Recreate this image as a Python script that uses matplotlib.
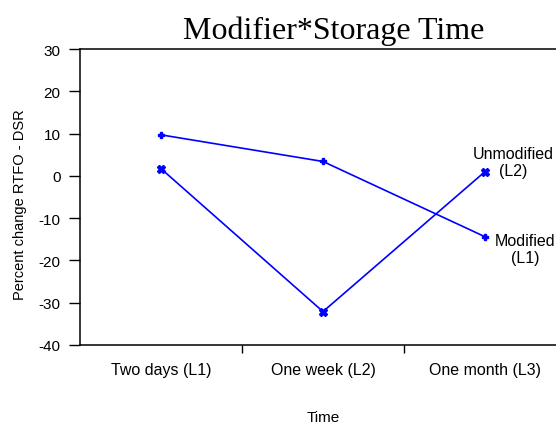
import matplotlib
matplotlib.use('Agg')
import matplotlib.pyplot as plt

categories = ['Two days (L1)', 'One week (L2)', 'One month (L3)']
modified = [9.7, 3.4, -14.4]
unmodified = [1.7, -32.1, 1.0]
y_ticks = [-40, -30, -20, -10, 0, 10, 20, 30]

plt.rcParams['font.family'] = ['Liberation Sans', 'DejaVu Sans']

fig = plt.figure(figsize=(5.56, 4.31), dpi=100)
# axes runs a bit past the right edge, like the original
ax = fig.add_axes([80 / 556, 85 / 431, 486 / 556, 296 / 431])

x = list(range(len(categories)))
blue = '#0000ff'
ax.plot(x, modified, color=blue, lw=1.2, marker='P', ms=5, clip_on=False)
ax.plot(x, unmodified, color=blue, lw=1.2, marker='X', ms=5.5, clip_on=False)

ax.set_xlim(-0.5, 2.5)
ax.set_ylim(-40, 30)
ax.set_yticks(y_ticks)
ax.set_yticklabels([str(v) for v in y_ticks], fontsize=11)
ax.tick_params(axis='y', length=8, width=1, direction='out', pad=6)

ax.set_xticks(x)
ax.set_xticklabels(categories, fontsize=11.5)
ax.tick_params(axis='x', length=0, pad=12)
ax.set_xticks([0.5, 1.5], minor=True)
ax.tick_params(axis='x', which='minor', length=6, width=1, direction='out')

ax.spines['right'].set_visible(False)
for s in ['left', 'bottom', 'top']:
    ax.spines[s].set_linewidth(1.1)

fig.text(334 / 556, 1 - 31 / 431, 'Modifier*Storage Time', family='Liberation Serif',
         fontsize=23, ha='center', va='center')
fig.text(20 / 556, 1 - 205 / 431, 'Percent change RTFO - DSR', rotation=90,
         fontsize=10.5, ha='center', va='center')
fig.text(323 / 556, 1 - 418 / 431, 'Time', fontsize=11, ha='center', va='center')

fig.text(513 / 556, 1 - 163 / 431, 'Unmodified\n(L2)', fontsize=11.5,
         ha='center', va='center', linespacing=1.2)
fig.text(525 / 556, 1 - 250 / 431, 'Modified\n(L1)', fontsize=11.5,
         ha='center', va='center', linespacing=1.2)

fig.savefig('out.png', dpi=100)
